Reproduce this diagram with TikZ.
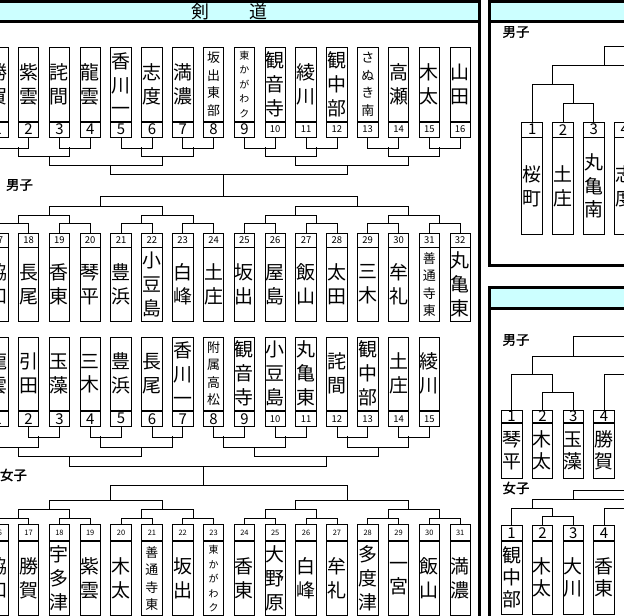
\documentclass[tikz,border=0pt]{standalone}
\usepackage{fontspec}
\newfontfamily\jp{Noto Sans CJK JP}
\newfontfamily\jpbold[FakeBold=1.2]{Noto Sans CJK JP}
\usetikzlibrary{positioning}

\definecolor{bandcyan}{HTML}{CCFFFF}

\tikzset{
  slot/.style={draw, line width=0.8bp, minimum width=20.6bp, inner sep=0pt, align=center},
  nmbox/.style={slot, minimum height=74bp, font=\jp\fontsize{19}{24}\selectfont},
  nmfour/.style={slot, minimum height=74bp, font=\jp\fontsize{13}{17.5}\selectfont},
  nmfive/.style={slot, minimum height=74bp, font=\jp\fontsize{10}{14.5}\selectfont},
  numbox/.style={slot, minimum height=15bp, font=\jp\fontsize{15}{15}\selectfont},
  numboxs/.style={slot, minimum height=15bp, font=\jp\fontsize{9.5}{9.5}\selectfont},
  numboxt/.style={slot, minimum height=16bp, font=\jp\fontsize{7.5}{7.5}\selectfont},
  bline/.style={line width=0.8bp},
  frame/.style={line width=3bp},
  sexlabel/.style={font=\jpbold\fontsize{13.5}{13.5}\selectfont},
}

\begin{document}
\begin{tikzpicture}[x=1bp, y=-1bp, declare function={gx(\g)=-22.8+10.277*\g;}]
\useasboundingbox (0,0) rectangle (624,616);

% title bars and frames
\fill[bandcyan] (-5,1.2) rectangle (479.5,21.3);
\fill[bandcyan] (489.5,1.2) rectangle (630,21.3);
\fill[bandcyan] (489.5,287) rectangle (630,308);
\draw[frame] (-5,1.2) -- (479.5,1.2);
\draw[frame] (-5,21.3) -- (479.5,21.3);
\draw[frame] (479.5,0) -- (479.5,620);
\draw[frame] (630,1.2) -- (489.5,1.2) -- (489.5,265) -- (630,265);
\draw[frame] (489.5,21.3) -- (630,21.3);
\draw[frame] (630,287) -- (489.5,287) -- (489.5,620);
\draw[frame] (489.5,308) -- (630,308);

\node[font=\jp\fontsize{18}{18}\selectfont] (title) at (229.5,11.5) {剣\hspace{41bp}道};

\node[sexlabel] (boys)   at (19.5,185) {男子};
\node[sexlabel] (girls)  at (13.5,475) {女子};
\node[sexlabel] (boysA)  at (516,32) {男子};
\node[sexlabel] (boysB)  at (516,340) {男子};
\node[sexlabel] (girlsB) at (516,488) {女子};

% ---- boys, upper row
\foreach \c/\txt/\sty in {1/{勝\\賀}/nmbox, 2/{紫\\雲}/nmbox, 3/{詫\\間}/nmbox, 4/{龍\\雲}/nmbox,
    5/{香\\川\\一}/nmbox, 6/{志\\度}/nmbox, 7/{満\\濃}/nmbox, 8/{坂\\出\\東\\部}/nmfour,
    9/{東\\か\\が\\わ\\ク}/nmfive, 10/{観\\音\\寺}/nmbox, 11/{綾\\川}/nmbox, 12/{観\\中\\部}/nmbox,
    13/{さ\\ぬ\\き\\南}/nmfour, 14/{高\\瀬}/nmbox, 15/{木\\太}/nmbox, 16/{山\\田}/nmbox}
  \node[\sty, anchor=north] (m\c) at ({gx(3*\c-1)},46.8) {\txt};
\foreach \c in {1,...,16} {
  \ifnum\c<10 \def\nsty{numbox}\else\def\nsty{numboxs}\fi
  \node[\nsty, below=0pt of m\c] (mn\c) {\c};
}
\foreach \a/\b in {1/2,3/4,5/6,7/8,9/10,11/12,13/14,15/16}
  \draw[bline] (mn\a.south) -- ++(0,10.5) -| (mn\b.south);
\foreach \a/\b/\yc/\yf in {4/9/147.3/156, 16/21/147.3/156, 28/33/147.3/156, 40/45/147.3/156,
    7/18/156/165, 31/42/156/165, 13/36/165/174}
  \draw[bline] ({gx(\a)},\yc) |- ({gx(\b)},\yf) -- ({gx(\b)},\yc);
\draw[bline] ({gx(24)},174) -- ({gx(24)},196.7);

% ---- boys, lower row
\foreach \c/\txt/\sty in {1/{協\\和}/nmbox, 2/{長\\尾}/nmbox, 3/{香\\東}/nmbox, 4/{琴\\平}/nmbox,
    5/{豊\\浜}/nmbox, 6/{小\\豆\\島}/nmbox, 7/{白\\峰}/nmbox, 8/{土\\庄}/nmbox,
    9/{坂\\出}/nmbox, 10/{屋\\島}/nmbox, 11/{飯\\山}/nmbox, 12/{太\\田}/nmbox,
    13/{三\\木}/nmbox, 14/{牟\\礼}/nmbox, 15/{善\\通\\寺\\東}/nmfour, 16/{丸\\亀\\東}/nmbox}
{
  \pgfmathtruncatemacro\n{\c+16}
  \node[numboxs, minimum height=14bp, anchor=north] (mn\n) at ({gx(3*\c-1)},232.6) {\n};
  \node[\sty, minimum height=73.4bp, below=0pt of mn\n] (m\n) {\txt};
}
\foreach \a/\b in {17/18,19/20,21/22,23/24,25/26,27/28,29/30,31/32}
  \draw[bline] (mn\a.north) -- ++(0,-9.3) -| (mn\b.north);
\foreach \a/\b/\yc/\yf in {4/9/223.3/215, 16/21/223.3/215, 28/33/223.3/215, 40/45/223.3/215,
    7/18/215/206, 31/42/215/206, 12/37/206/196.7}
  \draw[bline] ({gx(\a)},\yc) |- ({gx(\b)},\yf) -- ({gx(\b)},\yc);

% ---- girls, upper row
\foreach \c/\txt/\sty in {1/{龍\\雲}/nmbox, 2/{引\\田}/nmbox, 3/{玉\\藻}/nmbox, 4/{三\\木}/nmbox,
    5/{豊\\浜}/nmbox, 6/{長\\尾}/nmbox, 7/{香\\川\\一}/nmbox, 8/{附\\属\\高\\松}/nmfour,
    9/{観\\音\\寺}/nmbox, 10/{小\\豆\\島}/nmbox, 11/{丸\\亀\\東}/nmbox, 12/{詫\\間}/nmbox,
    13/{観\\中\\部}/nmbox, 14/{土\\庄}/nmbox, 15/{綾\\川}/nmbox}
  \node[\sty, minimum height=73.4bp, anchor=north] (w\c) at ({gx(3*\c-1)},336.6) {\txt};
\foreach \c in {1,...,15} {
  \ifnum\c<10 \def\nsty{numbox}\else\def\nsty{numboxs}\fi
  \node[\nsty, below=0pt of w\c] (wn\c) {\c};
}
\foreach \a/\b in {2/3,4/5,6/7,8/9,10/11,12/13,14/15}
  \draw[bline] (wn\a.south) -- ++(0,11) -| (wn\b.south);
\draw[bline] (wn1.south) |- ({gx(6)},447.3) -- ({gx(6)},436);
\foreach \a/\b/\yc/\yf in {12/19/436/447.3, 24/30/436/447.3, 36/42/436/447.3,
    4/16/447.3/456.7, 27/39/447.3/456.7, 9/34/456.7/466.7}
  \draw[bline] ({gx(\a)},\yc) |- ({gx(\b)},\yf) -- ({gx(\b)},\yc);
\draw[bline] ({gx(22)},466.7) -- ({gx(22)},485);

% ---- girls, lower row
\foreach \c/\txt/\sty in {1/{協\\和}/nmbox, 2/{勝\\賀}/nmbox, 3/{宇\\多\\津}/nmbox, 4/{紫\\雲}/nmbox,
    5/{木\\太}/nmbox, 6/{善\\通\\寺\\東}/nmfour, 7/{坂\\出}/nmbox, 8/{東\\か\\が\\わ\\ク}/nmfive,
    9/{香\\東}/nmbox, 10/{大\\野\\原}/nmbox, 11/{白\\峰}/nmbox, 12/{牟\\礼}/nmbox,
    13/{多\\度\\津}/nmbox, 14/{一\\宮}/nmbox, 15/{飯\\山}/nmbox, 16/{満\\濃}/nmbox}
{
  \pgfmathtruncatemacro\n{\c+15}
  \node[numboxt, anchor=north] (wn\n) at ({gx(3*\c-1)},524.4) {\n};
  \node[\sty, minimum height=74bp, below=0pt of wn\n] (w\n) {\txt};
}
\foreach \a/\b in {16/17,18/19,20/21,22/23,24/25,26/27,28/29,30/31}
  \draw[bline] (wn\a.north) -- ++(0,-6) -| (wn\b.north);
\foreach \a/\b/\yc/\yf in {4/9/518.4/509.3, 16/21/518.4/509.3, 28/33/518.4/509.3, 40/45/518.4/509.3,
    7/18/509.3/500, 31/42/509.3/500, 13/36/500/485}
  \draw[bline] ({gx(\a)},\yc) |- ({gx(\b)},\yf) -- ({gx(\b)},\yc);

% ---- right panel, top
\foreach \c/\g/\txt/\sty in {1/54/{桜\\町}/nmbox, 2/57/{土\\庄}/nmbox, 3/60/{丸\\亀\\南}/nmbox, 4/63/{志\\度}/nmbox}
{
  \node[numbox, anchor=north] (an\c) at ({gx(\g)},121.7) {\c};
  \node[\sty, minimum height=96bp, below=0pt of an\c] (a\c) {\txt};
}
\draw[bline] (an2.north) -- ++(0,-18.4) -| (an3.north);
\draw[bline] (an1.north) |- ({gx(58)},84.3) -- ({gx(58)},103.3);
\draw[bline] ({gx(56)},84.3) |- (630,65.7);
\draw[bline] ({gx(61)},65.7) |- (630,46.7);
\draw[bline] (an4.north) |- (630,83.3);

% ---- right panel, bottom: boys
\foreach \c/\g/\txt in {1/52/{琴\\平}, 2/55/{木\\太}, 3/58/{玉\\藻}, 4/61/{勝\\賀}}
{
  \node[numbox, minimum height=11.7bp, anchor=north] (bn\c) at ({gx(\g)},410) {\c};
  \node[nmbox, minimum height=55.6bp, font=\jp\fontsize{19}{22}\selectfont, below=0pt of bn\c] (b\c) {\txt};
}
\draw[bline] (bn2.north) -- ++(0,-17.3) -| (bn3.north);
\draw[bline] (bn1.north) |- ({gx(56)},374.3) -- ({gx(56)},392.7);
\draw[bline] ({gx(54)},374.3) |- (630,356);
\draw[bline] ({gx(58)},356) |- (630,336.7);
\draw[bline] (bn4.north) |- (630,374.3);

% ---- right panel, bottom: girls
\foreach \c/\g/\txt in {1/52/{観\\中\\部}, 2/55/{木\\太}, 3/58/{大\\川}, 4/61/{香\\東}}
{
  \node[numbox, anchor=north] (cn\c) at ({gx(\g)},525) {\c};
  \node[nmbox, minimum height=73bp, font=\jp\fontsize{19}{22}\selectfont, below=0pt of cn\c] (c\c) {\txt};
}
\draw[bline] (cn2.north) -- ++(0,-8.3) -| (cn3.north);
\draw[bline] (cn1.north) |- ({gx(56)},508.3) -- ({gx(56)},516.7);
\draw[bline] ({gx(54)},508.3) |- (630,499.2);
\draw[bline] ({gx(58)},499.2) |- (630,490);
\draw[bline] (cn4.north) |- (630,508.3);

\end{tikzpicture}
\end{document}
